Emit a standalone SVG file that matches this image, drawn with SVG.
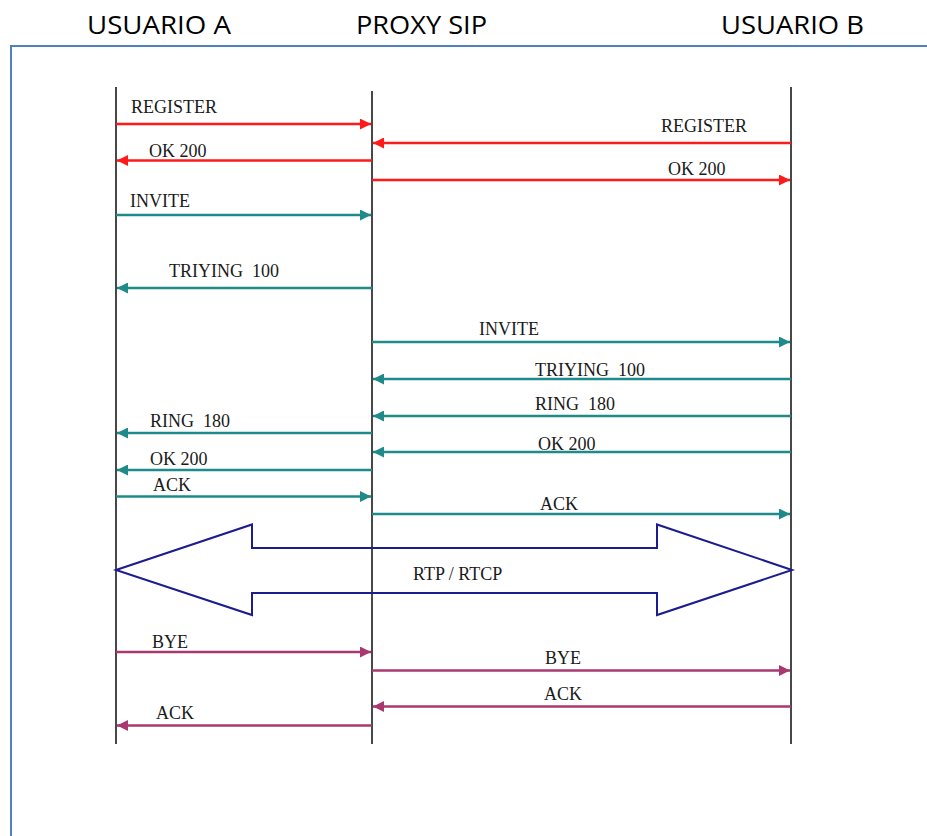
<svg xmlns="http://www.w3.org/2000/svg" width="927" height="836" viewBox="0 0 927 836">
  <style>
    .head { font-family: "Open Sans", "Liberation Sans", sans-serif; font-size: 26px; fill: #000; }
    .life { stroke: #1a1a1a; stroke-width: 1.6; fill: none; }
    .lbl { font-family: "Liberation Serif", "DejaVu Serif", serif; font-size: 18px; fill: #1a1a1a; }
    .msg { stroke-width: 2.5; fill: none; }
    .red { stroke: #ff1a1a; }
    .teal { stroke: #1f8a8a; }
    .plum { stroke: #a8386f; }
  </style>
  <defs>
    <marker id="ah-red" markerUnits="userSpaceOnUse" markerWidth="11" markerHeight="11" viewBox="0 0 10 10" refX="10" refY="5" orient="auto">
      <path d="M0,0 L10,5 L0,10 z" fill="#ff1a1a"/>
    </marker>
    <marker id="ah-teal" markerUnits="userSpaceOnUse" markerWidth="11" markerHeight="11" viewBox="0 0 10 10" refX="10" refY="5" orient="auto">
      <path d="M0,0 L10,5 L0,10 z" fill="#1f8a8a"/>
    </marker>
    <marker id="ah-plum" markerUnits="userSpaceOnUse" markerWidth="11" markerHeight="11" viewBox="0 0 10 10" refX="10" refY="5" orient="auto">
      <path d="M0,0 L10,5 L0,10 z" fill="#a8386f"/>
    </marker>
  </defs>

  <rect width="927" height="836" fill="#ffffff"/>

  <!-- frame -->
  <path d="M11,836 V46 H927" fill="none" stroke="#4f81bd" stroke-width="2"/>

  <!-- participants -->
  <g id="usuario-a">
    <text class="head" x="87" y="34" textLength="144" lengthAdjust="spacingAndGlyphs">USUARIO A</text>
    <line class="life" x1="116" y1="87" x2="116" y2="744"/>
  </g>
  <g id="proxy-sip">
    <text class="head" x="356" y="34" textLength="131" lengthAdjust="spacingAndGlyphs">PROXY SIP</text>
    <line class="life" x1="372" y1="91" x2="372" y2="744"/>
  </g>
  <g id="usuario-b">
    <text class="head" x="721" y="34" textLength="143" lengthAdjust="spacingAndGlyphs">USUARIO B</text>
    <line class="life" x1="791" y1="87" x2="791" y2="744"/>
  </g>

  <!-- messages -->
  <g id="connectors">
    <!-- registration -->
    <line class="msg red" x1="116" y1="124" x2="371" y2="124" marker-end="url(#ah-red)"/>
    <line class="msg red" x1="791" y1="143" x2="373" y2="143" marker-end="url(#ah-red)"/>
    <line class="msg red" x1="372" y1="160.5" x2="117" y2="160.5" marker-end="url(#ah-red)"/>
    <line class="msg red" x1="372" y1="180" x2="790" y2="180" marker-end="url(#ah-red)"/>

    <!-- call setup -->
    <line class="msg teal" x1="116" y1="215" x2="371" y2="215" marker-end="url(#ah-teal)"/>
    <line class="msg teal" x1="372" y1="288" x2="117" y2="288" marker-end="url(#ah-teal)"/>
    <line class="msg teal" x1="372" y1="342" x2="790" y2="342" marker-end="url(#ah-teal)"/>
    <line class="msg teal" x1="791" y1="379" x2="373" y2="379" marker-end="url(#ah-teal)"/>
    <line class="msg teal" x1="791" y1="416" x2="373" y2="416" marker-end="url(#ah-teal)"/>
    <line class="msg teal" x1="372" y1="433" x2="117" y2="433" marker-end="url(#ah-teal)"/>
    <line class="msg teal" x1="791" y1="452" x2="373" y2="452" marker-end="url(#ah-teal)"/>
    <line class="msg teal" x1="372" y1="470" x2="117" y2="470" marker-end="url(#ah-teal)"/>
    <line class="msg teal" x1="116" y1="496.5" x2="371" y2="496.5" marker-end="url(#ah-teal)"/>
    <line class="msg teal" x1="372" y1="514" x2="790" y2="514" marker-end="url(#ah-teal)"/>

    <!-- media stream -->
    <polygon points="116,570 252,524.5 252,548 657,548 657,524.5 792,570 657,615 657,593 252,593 252,615" fill="none" stroke="#1c1c8f" stroke-width="2" stroke-linejoin="miter"/>

    <!-- teardown -->
    <line class="msg plum" x1="116" y1="652" x2="371" y2="652" marker-end="url(#ah-plum)"/>
    <line class="msg plum" x1="372" y1="670.5" x2="790" y2="670.5" marker-end="url(#ah-plum)"/>
    <line class="msg plum" x1="791" y1="706.5" x2="373" y2="706.5" marker-end="url(#ah-plum)"/>
    <line class="msg plum" x1="372" y1="725.5" x2="117" y2="725.5" marker-end="url(#ah-plum)"/>
  </g>

  <!-- message labels -->
  <g id="labels">
    <text class="lbl" x="131" y="113">REGISTER</text>
    <text class="lbl" x="661" y="131.5">REGISTER</text>
    <text class="lbl" x="149" y="157">OK 200</text>
    <text class="lbl" x="668" y="175">OK 200</text>
    <text class="lbl" x="130" y="207">INVITE</text>
    <text class="lbl" x="169" y="277" xml:space="preserve">TRIYING  100</text>
    <text class="lbl" x="479" y="335">INVITE</text>
    <text class="lbl" x="535" y="375.5" xml:space="preserve">TRIYING  100</text>
    <text class="lbl" x="535" y="410" xml:space="preserve">RING  180</text>
    <text class="lbl" x="150" y="427" xml:space="preserve">RING  180</text>
    <text class="lbl" x="538" y="449.5">OK 200</text>
    <text class="lbl" x="150" y="465">OK 200</text>
    <text class="lbl" x="153" y="490.5">ACK</text>
    <text class="lbl" x="540" y="510">ACK</text>
    <text class="lbl" x="413" y="580">RTP / RTCP</text>
    <text class="lbl" x="152" y="648">BYE</text>
    <text class="lbl" x="545" y="664">BYE</text>
    <text class="lbl" x="544" y="700">ACK</text>
    <text class="lbl" x="156" y="719">ACK</text>
  </g>
</svg>
